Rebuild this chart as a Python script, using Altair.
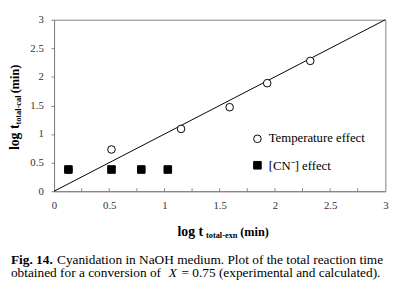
import altair as alt
import pandas as pd

# ---- data ----
temp_x = [0.13, 0.52, 1.15, 1.59, 1.93, 2.32]
temp_y = [0.38, 0.73, 1.09, 1.47, 1.89, 2.28]
cn_x = [0.13, 0.52, 0.79, 1.03]
cn_y = [0.38, 0.38, 0.38, 0.38]
line_x = [0, 3]
line_y = [0, 3]
x_ticks = [0, 0.5, 1, 1.5, 2, 2.5, 3]
y_ticks = [0, 0.5, 1, 1.5, 2, 2.5, 3]
minor_x = [0.25, 0.5, 0.75, 1.0, 1.25, 1.5, 1.75, 2.0, 2.25, 2.5, 2.75]
series = ["Temperature effect", "[CN\u207b] effect"]

SERIF = "Liberation Serif"
W, H = 338, 175
AX = "#808080"

pts = pd.DataFrame({
    "x": temp_x + cn_x,
    "y": temp_y + cn_y,
    "series": [series[0]] * len(temp_x) + [series[1]] * len(cn_x),
})
line_df = pd.DataFrame({"x": line_x, "y": line_y})
minor_df = pd.DataFrame({"x": minor_x})

xscale = alt.Scale(domain=[0, 3], nice=False)
yscale = alt.Scale(domain=[0, 3], nice=False)

common_axis = dict(title=None, grid=False, format="~g", labelFont=SERIF,
                   labelFontSize=11, labelColor="#333333", domainColor=AX,
                   tickColor=AX, labelOverlap=False, labelBound=False)
x_axis = alt.Axis(values=x_ticks, ticks=False, labelPadding=9,
                  labelFlush=False, **common_axis)
y_axis = alt.Axis(values=y_ticks, tickSize=3, labelPadding=8, **common_axis)

# legend symbols from the scales; legend labels drawn as serif text below
legend = alt.Legend(title=None, orient="none", legendX=201, legendY=115,
                    labelExpr="''", labelFontSize=13,
                    symbolStrokeWidth=1, symbolSize=60, rowPadding=13,
                    labelOffset=5)

line = alt.Chart(line_df).mark_line(color="black", strokeWidth=1).encode(
    x=alt.X("x:Q", scale=xscale, axis=x_axis),
    y=alt.Y("y:Q", scale=yscale, axis=y_axis),
)

minor = alt.Chart(minor_df).mark_rule(color=AX, strokeWidth=1).encode(
    x=alt.X("x:Q", scale=xscale, axis=x_axis),
    y=alt.value(H),
    y2=alt.value(H - 3),
)

points = alt.Chart(pts).mark_point(filled=True, strokeWidth=1,
                                   opacity=1, size=60).encode(
    x=alt.X("x:Q", scale=xscale, axis=x_axis),
    y=alt.Y("y:Q", scale=yscale, axis=y_axis),
    shape=alt.Shape("series:N", sort=series,
                    scale=alt.Scale(domain=series, range=["circle", "square"]),
                    legend=legend),
    fill=alt.Fill("series:N", sort=series,
                  scale=alt.Scale(domain=series, range=["white", "black"]),
                  legend=legend),
    stroke=alt.Stroke("series:N", sort=series,
                      scale=alt.Scale(domain=series, range=["black", "black"]),
                      legend=legend),
)


def txt(s, px, py, size=13, weight="normal", style="normal", angle=0):
    return alt.Chart(pd.DataFrame({"t": [s]})).mark_text(
        font=SERIF, fontSize=size, fontWeight=weight, fontStyle=style,
        angle=angle, align="left", baseline="alphabetic", color="black",
    ).encode(text="t:N", x=alt.value(px), y=alt.value(py))


CAP = 13.6
texts = [
    # legend labels
    txt(series[0], 219, 125, size=13),
    txt(series[1], 219, 153, size=13),
    # x-axis title
    txt("log t", 126, 221, size=14, weight="bold"),
    txt("total-exn", 155, 223, size=8.5, weight="bold"),
    txt("(min)", 190, 221, size=12.5, weight="bold"),
    # y-axis title (rotated)
    txt("log t", -36, 133, size=14, weight="bold", angle=270),
    txt("total-cal", -34, 107, size=8.5, weight="bold", angle=270),
    txt("(min)", -36, 75, size=12.5, weight="bold", angle=270),
    # caption
    txt("Fig. 14.", -44, 249, size=CAP, weight="bold"),
    txt("Cyanidation in NaOH medium. Plot of the total reaction time", 3, 249, size=CAP),
    txt("obtained for a conversion of", -44, 263, size=CAP),
    txt("X", 117, 263, size=CAP, style="italic"),
    txt("= 0.75 (experimental and calculated).", 130, 263, size=CAP),
]

chart = alt.layer(line, minor, points, *texts).properties(
    width=W, height=H,
    autosize=alt.AutoSizeParams(type="none"),
    padding={"left": 47, "top": 9, "right": 17, "bottom": 107},
    background="white",
).configure_view(stroke=AX, strokeWidth=1).configure_axis(
    labelFont=SERIF
)

chart.save("out.html", embed_options={"renderer": "svg", "actions": False})
